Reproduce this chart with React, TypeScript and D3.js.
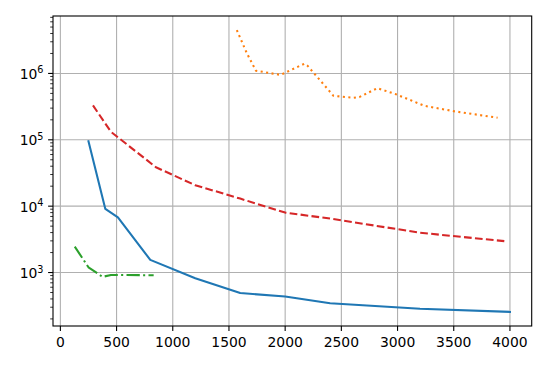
import React from "react";
import * as d3 from "d3";

const WIDTH = 548;
const HEIGHT = 366;

// series
const blueX = [250, 400, 512, 800, 1200, 1600, 2000, 2400, 3200, 4000];
const blueY = [95000, 9100, 6800, 1550, 820, 490, 435, 345, 285, 255];

const orangeX = [1570, 1660, 1740, 1960, 2170, 2200, 2430, 2610, 2660, 2820, 2980, 3240, 3500, 3890];
const orangeY = [4.5e6, 2.0e6, 1.1e6, 0.95e6, 1.4e6, 1.3e6, 4.6e5, 4.3e5, 4.4e5, 6.0e5, 4.9e5, 3.25e5, 2.7e5, 2.15e5];

const greenX = [128, 250, 375, 450, 830];
const greenY = [2450, 1200, 860, 920, 910];

const redX = [290, 450, 850, 1200, 1600, 2000, 2400, 3200, 3950];
const redY = [330000, 132000, 38600, 20700, 13000, 8000, 6500, 3980, 2970];

const xTicks = [0, 500, 1000, 1500, 2000, 2500, 3000, 3500, 4000];
const yExps = [3, 4, 5, 6];

const series = [
  { xs: blueX, ys: blueY, color: "#1f77b4", dash: null, cap: "square" },
  { xs: orangeX, ys: orangeY, color: "#ff7f0e", dash: "2.08,3.44", cap: "butt" },
  { xs: greenX, ys: greenY, color: "#2ca02c", dash: "13.3,3.3,2.08,3.3", cap: "butt" },
  { xs: redX, ys: redY, color: "#d62728", dash: "7.7,3.3", cap: "butt" },
];

const margin = { top: 16, right: 16.3, bottom: 40, left: 53 };

export default function App() {
  const w = WIDTH - margin.left - margin.right;
  const h = HEIGHT - margin.top - margin.bottom;

  const allX = series.flatMap(s => s.xs);
  const allY = series.flatMap(s => s.ys);
  const [x0, x1] = d3.extent(allX) as [number, number];
  const xPad = (x1 - x0) * 0.05;
  const xScale = d3.scaleLinear().domain([x0 - xPad, x1 + xPad]).range([0, w]);

  const [y0, y1] = d3.extent(allY) as [number, number];
  const ly0 = Math.log10(y0);
  const ly1 = Math.log10(y1);
  const yPad = (ly1 - ly0) * 0.05;
  const yScale = d3.scaleLog()
    .domain([Math.pow(10, ly0 - yPad), Math.pow(10, ly1 + yPad)])
    .range([h, 0]);

  const line = d3.line<[number, number]>()
    .x(d => xScale(d[0]))
    .y(d => yScale(d[1]));

  // minor ticks on log axis
  const [dMin, dMax] = yScale.domain();
  const minor: number[] = [];
  for (let e = Math.floor(Math.log10(dMin)); e <= Math.ceil(Math.log10(dMax)); e++) {
    for (let m = 2; m <= 9; m++) {
      const v = m * Math.pow(10, e);
      if (v >= dMin && v <= dMax) minor.push(v);
    }
  }

  const font = "'DejaVu Sans', sans-serif";

  return (
    <svg width={WIDTH} height={HEIGHT} style={{ position: "absolute", left: 0, top: 0, background: "#fff" }}>
      <g transform={`translate(${margin.left},${margin.top})`}>
        {/* grid */}
        {xTicks.map(t => (
          <line key={"gx" + t} x1={xScale(t)} x2={xScale(t)} y1={0} y2={h} stroke="#b0b0b0" strokeWidth={1.1} />
        ))}
        {yExps.map(e => (
          <line key={"gy" + e} x1={0} x2={w} y1={yScale(Math.pow(10, e))} y2={yScale(Math.pow(10, e))} stroke="#b0b0b0" strokeWidth={1.1} />
        ))}

        {/* lines */}
        <defs>
          <clipPath id="plotclip">
            <rect x={0} y={0} width={w} height={h} />
          </clipPath>
        </defs>
        <g clipPath="url(#plotclip)">
          {series.map((s, i) => (
            <path
              key={i}
              d={line(s.xs.map((x, j) => [x, s.ys[j]] as [number, number])) || ""}
              fill="none"
              stroke={s.color}
              strokeWidth={2.08}
              strokeDasharray={s.dash || undefined}
              strokeLinecap={s.cap as any}
              strokeLinejoin="round"
            />
          ))}
        </g>

        {/* spines */}
        <rect x={0} y={0} width={w} height={h} fill="none" stroke="#000" strokeWidth={1.1} />

        {/* x ticks */}
        {xTicks.map(t => (
          <g key={"xt" + t} transform={`translate(${xScale(t)},${h})`}>
            <line y1={0} y2={4.9} stroke="#000" strokeWidth={1.1} />
            <text y={20.7} textAnchor="middle" fontFamily={font} fontSize={13.9} fill="#000">{t}</text>
          </g>
        ))}

        {/* y ticks */}
        {minor.map(v => (
          <line key={"ym" + v} x1={-2.8} x2={0} y1={yScale(v)} y2={yScale(v)} stroke="#000" strokeWidth={0.8} />
        ))}
        {yExps.map(e => (
          <g key={"yt" + e} transform={`translate(0,${yScale(Math.pow(10, e))})`}>
            <line x1={-4.9} x2={0} stroke="#000" strokeWidth={1.1} />
            <text x={-9.5} y={5.5} textAnchor="end" fontFamily={font} fontSize={13.9} fill="#000">
              10
              <tspan dy={-5.5} fontSize={9.7}>{e}</tspan>
            </text>
          </g>
        ))}
      </g>
    </svg>
  );
}
